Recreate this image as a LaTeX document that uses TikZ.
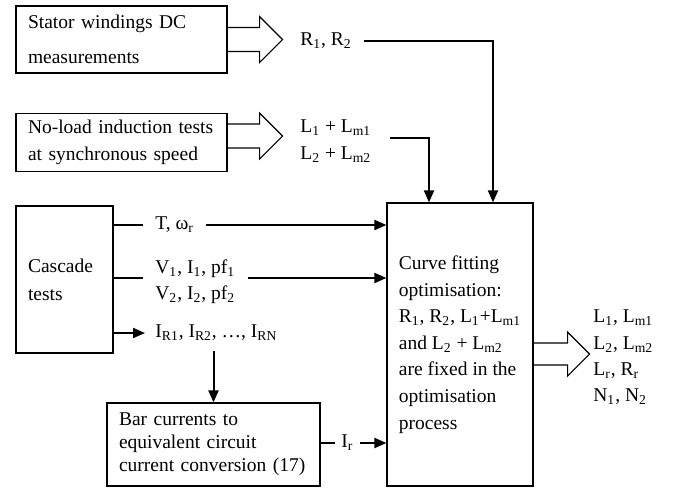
\documentclass[tikz,border=0pt]{standalone}
\usepackage{fontspec}
\setmainfont{Liberation Serif}
\usetikzlibrary{arrows.meta,positioning}
\newcommand{\sbs}[1]{\textsubscript{#1}}

\begin{document}
\begin{tikzpicture}[x=0.5pt, y=-0.5pt]
        \tikzstyle{component} = [rectangle, draw, line width = 0.6pt, align = left, inner xsep = 6pt, font = \fontsize{9.75}{13.3}\selectfont]
        \tikzstyle{signal} = [align = left, inner xsep = 6pt, font = \fontsize{9.75}{13.2}\selectfont]
        \tikzstyle{flow} = [line width = 1pt, -{Triangle[length=6pt, width=5pt]}]
        \tikzstyle{feed} = [line width = 1pt]
        \tikzstyle{fat} = [line width = 0.6pt, line join = miter]
        \useasboundingbox (0,0) rectangle (674,489);
        % boxes
        \node at (121.5,39.5) (stator) [component, text width = 93.5pt, minimum height = 33.5pt, font = \fontsize{9.75}{17.5}\selectfont] {Stator windings DC\\measurements};
        \node at (121.5,142.5) (noload) [component, text width = 93.5pt, minimum height = 28.5pt] {No-load induction tests\\at synchronous speed};
        \node at (64.5,279.5) (cascade) [component, text width = 36.5pt, minimum height = 73.5pt, font = \fontsize{9.75}{14}\selectfont] {Cascade\\tests};
        \node at (213.5,444.5) (bar) [component, text width = 94.5pt, minimum height = 41.5pt, font = \fontsize{9.75}{11.5}\selectfont] {Bar currents to\\equivalent circuit\\current conversion (17)};
        \node at (460,344.5) (main) [component, minimum width = 73pt, minimum height = 141.5pt, inner xsep = 4pt] {Curve fitting\\optimisation:\\R\sbs{1}, R\sbs{2}, L\sbs{1}+L\sbs{m1}\\and L\sbs{2} + L\sbs{m2}\\are fixed in the\\optimisation\\process};
        % signal labels
        \node at (288,41) (rr) [signal, anchor = west] {R\sbs{1}, R\sbs{2}};
        \node at (288,141) (ll) [signal, anchor = west] {L\sbs{1} + L\sbs{m1}\\L\sbs{2} + L\sbs{m2}};
        \node at (143,225) (torque) [signal, anchor = west] {T, ω\sbs{r}};
        \node at (143,281.5) (volts) [signal, anchor = west] {V\sbs{1}, I\sbs{1}, pf\sbs{1}\\V\sbs{2}, I\sbs{2}, pf\sbs{2}};
        \node at (145,333) (bars) [signal, anchor = west, inner xsep = 5pt, inner ysep = 5pt] {I\sbs{R1}, I\sbs{R2}, \ldots, I\sbs{RN}};
        \node at (335,443) (ir) [signal, anchor = west, inner xsep = 3pt] {I\sbs{r}};
        \node at (581,357.5) (out) [signal, anchor = west, font = \fontsize{9.75}{13.15}\selectfont] {L\sbs{1}, L\sbs{m1}\\L\sbs{2}, L\sbs{m2}\\L\sbs{r}, R\sbs{r}\\N\sbs{1}, N\sbs{2}};
        % block arrows
        \draw [fat] (stator.east) ++(0,-12) -- ++(32,0) -- ++(0,-11) -- ++(23,23) -- ++(-23,23) -- ++(0,-11) -- ++(-32,0);
        \draw [fat] ([yshift=3.25pt]noload.east) ++(0,-12) -- ++(32,0) -- ++(0,-11) -- ++(23,23) -- ++(-23,23) -- ++(0,-11) -- ++(-32,0);
        \draw [fat] ([yshift=-4.75pt]main.east) ++(0,-11) -- ++(34,0) -- ++(0,-11) -- ++(22,22) -- ++(-22,22) -- ++(0,-11) -- ++(-34,0);
        % connectors
        \draw [flow] (rr.east) -| ([xshift=16.5pt]main.north);
        \coordinate (lrow) at ([xshift=3pt, yshift=1.5pt]ll.east);
        \draw [flow] (lrow) -| ([xshift=-15.5pt]main.north);
        \draw [feed] (cascade.east |- torque) -- (torque.west);
        \draw [flow] (torque.east) -- (torque.east -| main.west);
        \coordinate (vrow) at ([yshift=1.75pt]volts.west);
        \draw [feed] (cascade.east |- vrow) -- (vrow);
        \draw [flow] (vrow -| volts.east) -- (vrow -| main.west);
        \draw [flow] (cascade.east |- bars) -- (bars.west);
        \draw [flow] (bars.south -| bar.north) -- (bar.north);
        \draw [feed] (bar.east |- ir) -- (ir.west);
        \draw [flow] (ir.east) -- (ir.east -| main.west);
\end{tikzpicture}
\end{document}
